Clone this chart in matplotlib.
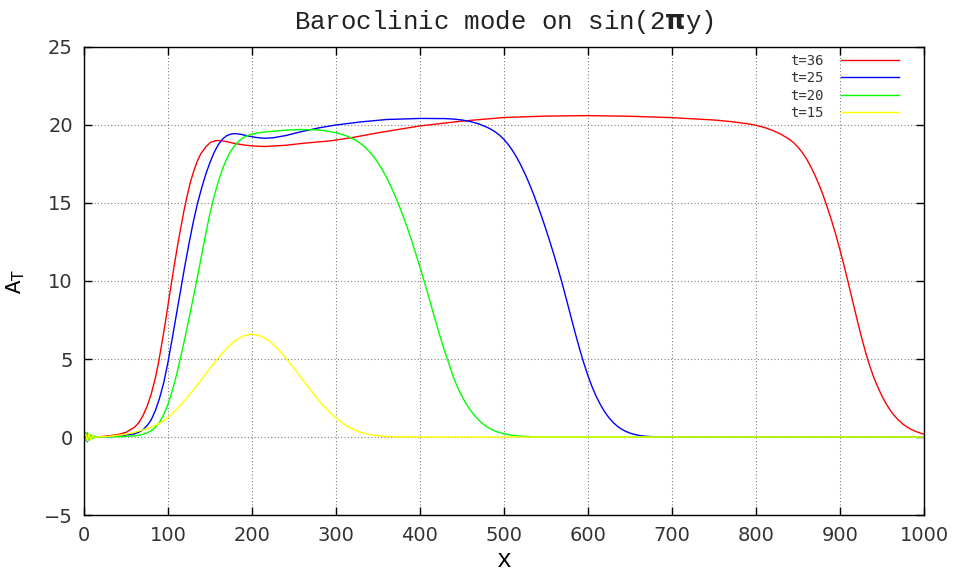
import matplotlib
matplotlib.use("Agg")
import matplotlib.pyplot as plt

# values
x36 = [0, 20, 40, 50, 60, 65, 70, 75, 80, 85, 89, 93, 97, 100, 103, 107, 111, 115,
       119, 123, 127, 131, 135, 139, 145, 151, 157, 163, 170, 178, 190, 200, 215,
       240, 265, 293, 320, 350, 375, 400, 450, 500, 550, 600, 650, 700, 750, 770,
       790, 800, 810, 820, 830, 840, 845, 850, 855, 860, 865, 870, 875, 880, 885,
       890, 895, 900, 905, 910, 915, 920, 925, 930, 935, 940, 945, 950, 955, 960,
       965, 970, 975, 980, 985, 990, 995, 1000]
y36 = [0, 0.02, 0.15, 0.3, 0.62, 0.9, 1.35, 1.95, 2.75, 3.8, 4.85, 6.1, 7.4, 8.45,
       9.5, 10.85, 12.15, 13.35, 14.5, 15.5, 16.4, 17.1, 17.7, 18.15, 18.6, 18.9,
       19.0, 19.0, 18.93, 18.83, 18.72, 18.66, 18.62, 18.7, 18.85, 18.98, 19.2,
       19.5, 19.72, 19.94, 20.25, 20.48, 20.57, 20.6, 20.56, 20.47, 20.32, 20.22,
       20.08, 19.98, 19.84, 19.65, 19.4, 19.07, 18.85, 18.58, 18.24, 17.84, 17.35,
       16.8, 16.18, 15.48, 14.7, 13.87, 12.97, 11.98, 10.95, 9.85, 8.72, 7.6, 6.52,
       5.52, 4.62, 3.85, 3.2, 2.62, 2.12, 1.7, 1.35, 1.06, 0.82, 0.63, 0.48, 0.36,
       0.26, 0.18]

x25 = [0, 2, 4, 6, 8, 10, 12, 15, 40, 60, 65, 70, 75, 80, 85, 90, 95, 100, 105,
       110, 115, 120, 125, 130, 135, 140, 145, 150, 155, 160, 165, 170, 175, 180,
       187, 195, 205, 215, 225, 240, 257, 280, 300, 330, 360, 400, 430, 440, 450,
       460, 470, 480, 485, 490, 495, 500, 505, 510, 515, 520, 525, 530, 535, 540,
       545, 550, 555, 560, 565, 570, 575, 580, 585, 590, 595, 600, 605, 610, 615,
       620, 625, 630, 635, 640, 645, 650, 655, 660, 665, 670, 680, 700, 1000]
y25 = [0, 0.25, -0.3, 0.2, -0.15, 0.1, -0.05, 0, 0.05, 0.2, 0.3, 0.45, 0.72, 1.1,
       1.7, 2.5, 3.5, 4.8, 6.3, 7.85, 9.4, 10.95, 12.4, 13.75, 14.95, 15.95, 16.85,
       17.6, 18.25, 18.75, 19.1, 19.32, 19.42, 19.45, 19.4, 19.3, 19.2, 19.15,
       19.18, 19.32, 19.55, 19.82, 20.0, 20.2, 20.35, 20.42, 20.41, 20.38, 20.32,
       20.22, 20.07, 19.85, 19.71, 19.54, 19.33, 19.07, 18.75, 18.37, 17.93, 17.43,
       16.87, 16.25, 15.58, 14.86, 14.1, 13.3, 12.46, 11.58, 10.66, 9.7, 8.68,
       7.64, 6.62, 5.65, 4.74, 3.92, 3.2, 2.58, 2.05, 1.6, 1.23, 0.93, 0.69, 0.5,
       0.36, 0.25, 0.17, 0.11, 0.07, 0.04, 0.015, 0, 0]

x20 = [0, 2, 4, 6, 8, 10, 12, 15, 40, 60, 65, 70, 75, 80, 85, 90, 95, 100, 105,
       110, 115, 120, 125, 130, 135, 140, 145, 150, 155, 160, 165, 170, 175, 180,
       185, 190, 195, 200, 210, 225, 240, 257, 275, 286, 300, 305, 310, 315, 320,
       325, 330, 335, 340, 345, 350, 355, 360, 365, 370, 375, 380, 385, 390, 395,
       400, 405, 410, 415, 420, 425, 430, 435, 440, 445, 450, 455, 460, 465, 470,
       475, 480, 485, 490, 495, 500, 510, 520, 535, 560, 1000]
y20 = [0, -0.25, 0.3, -0.2, 0.15, -0.1, 0.05, 0, 0.02, 0.07, 0.11, 0.17, 0.26, 0.4,
       0.62, 0.95, 1.45, 2.1, 2.95, 3.95, 5.1, 6.3, 7.6, 8.9, 10.25, 11.65, 13.05,
       14.35, 15.45, 16.4, 17.2, 17.85, 18.35, 18.72, 19.0, 19.2, 19.33, 19.42,
       19.52, 19.6, 19.67, 19.71, 19.69, 19.64, 19.5, 19.43, 19.35, 19.25, 19.12,
       18.97, 18.78, 18.55, 18.28, 17.96, 17.58, 17.15, 16.65, 16.1, 15.5, 14.85,
       14.15, 13.4, 12.6, 11.75, 10.88, 9.98, 9.05, 8.1, 7.15, 6.25, 5.4, 4.6, 3.8,
       3.15, 2.6, 2.12, 1.72, 1.38, 1.08, 0.84, 0.64, 0.49, 0.37, 0.28, 0.2, 0.11,
       0.05, 0.015, 0, 0]

x15 = [0, 2, 4, 6, 8, 10, 12, 15, 25, 30, 40, 50, 60, 70, 80, 90, 100, 110, 120,
       130, 140, 150, 160, 170, 180, 190, 200, 210, 220, 230, 240, 250, 260, 270,
       280, 290, 300, 310, 320, 330, 340, 350, 360, 375, 400, 1000]
y15 = [0, 0.2, -0.25, 0.25, -0.2, 0.1, -0.05, 0, 0.02, 0.05, 0.1, 0.18, 0.3, 0.45,
       0.62, 0.88, 1.25, 1.75, 2.35, 3.0, 3.7, 4.4, 5.08, 5.7, 6.18, 6.48, 6.6,
       6.48, 6.18, 5.7, 5.08, 4.4, 3.7, 3.0, 2.3, 1.72, 1.22, 0.8, 0.5, 0.29,
       0.16, 0.08, 0.04, 0.01, 0, 0]

series = [("t=36", x36, y36, "#ff0000"),
          ("t=25", x25, y25, "#0000ff"),
          ("t=20", x20, y20, "#00ff00"),
          ("t=15", x15, y15, "#ffff00")]

fig = plt.figure(figsize=(9.61, 5.73), dpi=100)
ax = fig.add_axes([0.0874, 0.1012, 0.8741, 0.8168])

for name, xs, ys, col in series:
    ax.plot(xs, ys, color=col, lw=1.0, label=name, solid_joinstyle="round")

ax.set_xlim(0, 1000)
ax.set_ylim(-5, 25)
ax.set_xticks(range(0, 1001, 100))
ax.set_yticks(range(-5, 26, 5))
ax.grid(True, color="#808080", linestyle=(0, (1, 2)), linewidth=0.8)
ax.tick_params(direction="in", length=6, width=1, top=True, right=True,
               labelsize=14, labelcolor="#333333", pad=8)
for s in ax.spines.values():
    s.set_linewidth(1.0)

ax.set_title("Baroclinic mode on sin(2$\\mathbf{\\pi}$y)", family="Liberation Mono",
             fontsize=18.5, color="#222222", pad=13)
ax.set_xlabel("x", family="Liberation Mono", fontsize=18, labelpad=2)
ax.set_ylabel("A$_\\mathrm{T}$", family="Liberation Mono", fontsize=16, labelpad=12)

leg = ax.legend(loc="upper right", frameon=False, markerfirst=False,
                handlelength=4.2, handletextpad=1.2, labelspacing=0.25,
                prop={"family": "DejaVu Sans Mono", "size": 10},
                bbox_to_anchor=(0.985, 1.012))
for t in leg.get_texts():
    t.set_color("#333333")

fig.savefig("out.png", dpi=100)
